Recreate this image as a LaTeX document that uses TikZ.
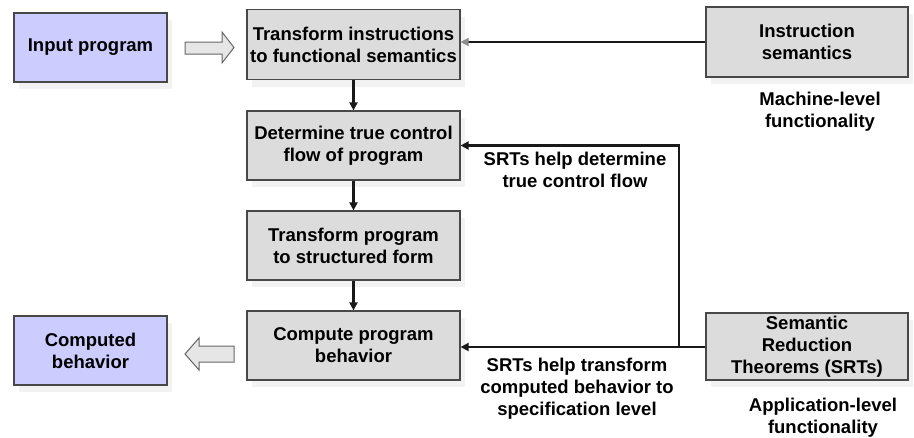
\documentclass[tikz,border=0pt]{standalone}
\usepackage{fontspec}
\setmainfont{Liberation Sans}
\usetikzlibrary{arrows.meta,shadows}
\definecolor{boxgray}{HTML}{DCDCDC}
\definecolor{lav}{HTML}{CCCCFF}
\definecolor{edge}{HTML}{484848}
\tikzset{
  base/.style={draw=edge, line width=1.2pt, align=center, font=\bfseries\fontsize{18.5}{22}\selectfont, text=black, inner sep=0pt,
    drop shadow={shadow xshift=5pt, shadow yshift=-7pt, fill=black!5, opacity=1}},
  gbox/.style={base, fill=boxgray},
  lbox/.style={base, fill=lav},
  lbl/.style={align=center, font=\bfseries\fontsize{18.5}{22}\selectfont, text=black},
  conn/.style={line width=2.2pt, draw=black!90, -{Triangle[length=8pt,width=8pt]}},
  blockarrow/.style={fill=boxgray!70, draw=black!60, line width=1pt, line join=miter}
}
\begin{document}
\begin{tikzpicture}[x=1pt,y=-1pt]
\useasboundingbox (0,0) rectangle (914,437);
\node[lbox, minimum width=153pt, minimum height=69pt] (inp) at (90.5,47.5) {Input program};
\node[gbox, minimum width=213pt, minimum height=70pt] (ti) at (353.5,44.5) {Transform instructions\\to functional semantics};
\node[gbox, minimum width=202pt, minimum height=70pt] (is) at (807,42) {Instruction\\semantics};
\node[gbox, minimum width=213pt, minimum height=69pt] (dt) at (353.5,145.5) {Determine true control\\flow of program};
\node[gbox, minimum width=213pt, minimum height=69pt] (tp) at (353.5,245.5) {Transform program\\to structured form};
\node[gbox, minimum width=213pt, minimum height=69pt] (cp) at (353.5,345.5) {Compute program\\behavior};
\node[lbox, minimum width=153pt, minimum height=69pt] (cb) at (90.5,350.5) {Computed\\behavior};
\node[gbox, minimum width=202pt, minimum height=67pt] (srt) at (807,346.5) {Semantic\\Reduction\\Theorems (SRTs)};

\node[lbl] (l1) at (820,112) {Machine-level\\functionality};
\node[lbl] (l2) at (575,170) {SRTs help determine\\true control flow};
\node[lbl] (l3) at (577,389) {SRTs help transform\\computed behavior to\\specification level};
\node[lbl] (l4) at (823,418) {Application-level\\functionality};

% block arrows
\draw[blockarrow] (185,42) -- (222,42) -- (222,32) -- (234,47.5) -- (222,63) -- (222,54) -- (185,54) -- cycle;
\draw[blockarrow] (234,346) -- (199,346) -- (199,338) -- (185,354) -- (199,370) -- (199,362) -- (234,362) -- cycle;

% connectors
\draw[conn] (ti.south) -- (dt.north);
\draw[conn] (dt.south) -- (tp.north);
\draw[conn] (tp.south) -- (cp.north);
\draw[line width=2.2pt, draw=black!90, -{Triangle[length=8pt,width=8pt,fill=black!45,color=black!45]}] (is.west) -- (is.west -| ti.east);
\coordinate (j) at (679,347);
\draw[conn] (srt.west |- j) -- (j -| cp.east);
\draw[conn] (j) -- (679,145.5) -- (dt.east);
\end{tikzpicture}
\end{document}
